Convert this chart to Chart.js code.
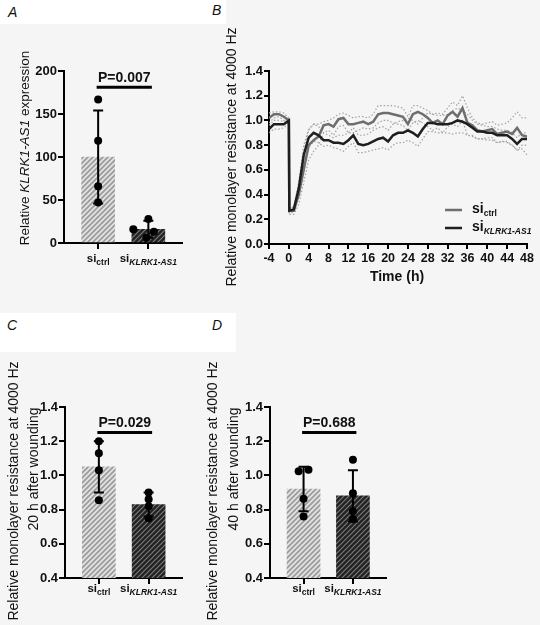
<!DOCTYPE html>
<html>
<head>
<meta charset="utf-8">
<script src="https://cdn.jsdelivr.net/npm/chart.js@4.4.1/dist/chart.umd.min.js"></script>
<style>
  body { margin:0; width:540px; height:625px; background:#f5f5f5; position:relative; overflow:hidden; }
  canvas { position:absolute; }
  .strip { position:absolute; background:#fff; }
  .lbl { position:absolute; font:italic 14px "Liberation Sans", Arial, sans-serif; line-height:1; color:#111; }
</style>
</head>
<body>
<div class="strip" style="left:0;top:0;width:226px;height:24px"></div>
<div class="strip" style="left:0;top:313px;width:236px;height:39px"></div>
<div class="lbl" style="left:8px;top:5px">A</div>
<div class="lbl" style="left:212px;top:3px">B</div>
<div class="lbl" style="left:7px;top:318px">C</div>
<div class="lbl" style="left:212px;top:318px">D</div>

<canvas id="chartA" width="200" height="300" style="left:0;top:0"></canvas>
<canvas id="chartB" width="340" height="300" style="left:200px;top:0"></canvas>
<canvas id="chartC" width="270" height="325" style="left:0;top:300px"></canvas>
<canvas id="chartD" width="340" height="325" style="left:200px;top:300px"></canvas>

<script>
// groups (x categories of the bar panels)
const groups = ['ctrl', 'KLRK1-AS1'];

// A: relative KLRK1-AS1 expression
const exprMean = [100, 16];
const exprSd = [54, 10];
const exprDots = [[167, 119, 66, 47], [28, 16, 13, 6]];
const exprJitter = [[0, 0, 0, 0], [0, -0.3, 0.11, -0.04]];
const exprTicks = [0, 50, 100, 150, 200];
const exprP = 'P=0.007';

// B: resistance time course
const hours = [-4, -3, -2, -1, 0, 0.1, 1, 2, 3, 4, 5, 6, 7, 8, 9, 10, 11, 12, 13, 14, 15, 16, 17, 18, 19, 20,
  21, 22, 23, 24, 25, 26, 27, 28, 29, 30, 31, 32, 33, 34, 35, 36, 37, 38, 39, 40, 41, 42, 43, 44, 45, 46, 47, 48];
const ctrlMean = [1.02, 1.05, 1.05, 1.03, 1.00, 0.27, 0.27, 0.40, 0.60, 0.80, 0.84, 0.87, 0.96, 0.97, 0.95, 1.01,
  1.02, 0.97, 0.97, 0.98, 0.99, 0.97, 0.99, 1.05, 1.06, 1.06, 1.05, 1.04, 1.03, 0.97, 1.05, 1.07, 1.05, 1.02,
  0.98, 1.00, 0.97, 1.04, 1.07, 1.03, 1.10, 0.98, 0.96, 0.92, 0.91, 0.92, 0.93, 0.89, 0.90, 0.91, 0.89, 0.94, 0.88, 0.87];
const ctrlHi = [1.06, 1.07, 1.07, 1.06, 1.02, 0.29, 0.30, 0.45, 0.75, 0.92, 0.97, 0.97, 0.99, 1.00, 1.02, 1.05,
  1.06, 1.04, 1.02, 1.03, 1.03, 1.02, 1.05, 1.12, 1.12, 1.12, 1.12, 1.11, 1.10, 1.03, 1.12, 1.12, 1.10, 1.08,
  1.05, 1.06, 1.05, 1.10, 1.15, 1.12, 1.20, 1.10, 1.02, 0.98, 0.97, 0.98, 0.99, 0.96, 0.97, 0.98, 1.02, 1.07, 1.02, 1.02];
const ctrlLo = [0.98, 1.02, 1.03, 1.00, 0.98, 0.24, 0.24, 0.32, 0.50, 0.68, 0.75, 0.80, 0.90, 0.92, 0.88, 0.95,
  0.96, 0.90, 0.90, 0.92, 0.94, 0.93, 0.94, 0.98, 1.00, 1.00, 0.98, 0.97, 0.96, 0.92, 0.98, 1.00, 0.98, 0.95,
  0.92, 0.94, 0.90, 0.95, 0.97, 0.95, 1.00, 0.88, 0.88, 0.85, 0.85, 0.86, 0.86, 0.82, 0.83, 0.82, 0.80, 0.76, 0.77, 0.72];
const ktMean = [0.93, 0.97, 0.97, 0.97, 1.00, 0.27, 0.28, 0.45, 0.72, 0.86, 0.90, 0.88, 0.84, 0.84, 0.82, 0.82,
  0.81, 0.84, 0.88, 0.81, 0.80, 0.81, 0.83, 0.85, 0.86, 0.83, 0.88, 0.90, 0.90, 0.92, 0.90, 0.87, 0.93, 0.98,
  0.98, 0.97, 0.97, 0.97, 0.98, 1.00, 0.99, 0.97, 0.94, 0.91, 0.91, 0.90, 0.90, 0.88, 0.88, 0.88, 0.85, 0.81, 0.85, 0.85];
const ktHi = [0.96, 1.00, 1.00, 0.99, 1.01, 0.28, 0.30, 0.50, 0.80, 0.93, 0.97, 0.95, 0.90, 0.88, 0.86, 0.88,
  0.88, 0.90, 0.94, 0.88, 0.88, 0.89, 0.92, 0.94, 0.95, 0.92, 0.97, 0.99, 1.00, 1.02, 1.00, 0.97, 1.02, 1.06,
  1.05, 1.04, 1.04, 1.05, 1.08, 1.10, 1.08, 1.05, 1.00, 0.97, 0.96, 0.95, 0.95, 0.93, 0.92, 0.92, 0.90, 0.86, 0.90, 0.90];
const ktLo = [0.90, 0.93, 0.93, 0.94, 0.98, 0.25, 0.26, 0.40, 0.65, 0.78, 0.83, 0.82, 0.79, 0.80, 0.78, 0.77,
  0.75, 0.79, 0.82, 0.74, 0.74, 0.75, 0.76, 0.77, 0.78, 0.76, 0.80, 0.82, 0.82, 0.84, 0.82, 0.79, 0.85, 0.91,
  0.91, 0.90, 0.90, 0.90, 0.89, 0.90, 0.90, 0.88, 0.87, 0.85, 0.85, 0.84, 0.84, 0.82, 0.83, 0.83, 0.80, 0.76, 0.80, 0.80];
const timeTicks = [-4, 0, 4, 8, 12, 16, 20, 24, 28, 32, 36, 40, 44, 48];
const resTicks = [0, 0.2, 0.4, 0.6, 0.8, 1.0, 1.2, 1.4];

// C: 20 h after wounding
const res20Mean = [1.05, 0.83];
const res20Sd = [0.15, 0.07];
const res20Dots = [[1.20, 1.13, 1.03, 0.855], [0.90, 0.86, 0.82, 0.75]];
const res20Jitter = [[0, 0, 0, 0], [0, 0, 0, 0]];
const res20P = 'P=0.029';

// D: 40 h after wounding
const res40Mean = [0.92, 0.88];
const res40Sd = [0.13, 0.15];
const res40Dots = [[1.025, 1.033, 0.864, 0.76], [1.092, 0.895, 0.79, 0.745]];
const res40Jitter = [[-0.1, 0.1, 0, 0], [0, 0, 0, 0]];
const res40P = 'P=0.688';
const woundTicks = [0.4, 0.6, 0.8, 1.0, 1.2, 1.4];

const FONT = '"Liberation Sans", Arial, sans-serif';
const INK = '#111';

function hatch(base, stripe, w) {
  const c = document.createElement('canvas');
  c.width = c.height = 5;
  const g = c.getContext('2d');
  g.fillStyle = base;
  g.fillRect(0, 0, 5, 5);
  g.strokeStyle = stripe;
  g.lineWidth = w;
  g.beginPath();
  g.moveTo(-1, 1); g.lineTo(1, -1);
  g.moveTo(0, 5); g.lineTo(5, 0);
  g.moveTo(4, 6); g.lineTo(6, 4);
  g.stroke();
  return g.createPattern(c, 'repeat');
}

// rotated axis title, made of spans with their own fonts
function vText(g, spans, cx, cy) {
  g.save();
  g.translate(cx, cy);
  g.rotate(-Math.PI / 2);
  g.fillStyle = INK;
  g.textBaseline = 'middle';
  g.textAlign = 'left';
  let total = 0;
  spans.forEach(s => { g.font = s[1]; total += g.measureText(s[0]).width; });
  let x = -total / 2;
  spans.forEach(s => { g.font = s[1]; g.fillText(s[0], x, 0); x += g.measureText(s[0]).width; });
  g.restore();
}

// "si" with a subscript
function siLabel(g, x, y, sub, size, subSize, centred) {
  const f1 = 'bold ' + size + 'px ' + FONT;
  const f2 = (sub === 'ctrl' ? '' : 'italic ') + 'bold ' + subSize + 'px ' + FONT;
  g.font = f1; const w1 = g.measureText('si').width;
  g.font = f2; const w2 = g.measureText(sub).width;
  const x0 = centred ? x - (w1 + w2) / 2 : x;
  g.fillStyle = INK;
  g.textAlign = 'left';
  g.textBaseline = 'alphabetic';
  g.font = f1; g.fillText('si', x0, y);
  g.font = f2; g.fillText(sub, x0 + w1, y + 3);
}

function axisGrid(len) {
  return { drawOnChartArea: false, drawTicks: true, tickLength: len, color: '#000', lineWidth: 2, offset: false };
}

function barPanel(id, o) {
  const dots = [];
  o.dots.forEach((arr, i) => arr.forEach((v, k) => dots.push({ x: i + o.jitter[i][k], y: v })));

  const deco = {
    id: 'deco',
    afterDatasetDraw(chart, args) {
      if (args.index !== 0) return;
      const g = chart.ctx, xs = chart.scales.x, ys = chart.scales.y;
      g.save();
      g.strokeStyle = '#000';
      g.lineWidth = 2;
      o.mean.forEach((m, i) => {
        const px = xs.getPixelForValue(i);
        const top = ys.getPixelForValue(m + o.sd[i]);
        const bot = ys.getPixelForValue(m - o.sd[i]);
        g.beginPath();
        g.moveTo(px, top); g.lineTo(px, bot);
        g.moveTo(px - 5, top); g.lineTo(px + 5, top);
        g.moveTo(px - 5, bot); g.lineTo(px + 5, bot);
        g.stroke();
      });
      g.restore();
    },
    afterDraw(chart) {
      const g = chart.ctx, xs = chart.scales.x, ys = chart.scales.y;
      // significance bar
      const x1 = xs.getPixelForValue(-0.03), x2 = xs.getPixelForValue(1.07);
      const py = ys.getPixelForValue(o.pLevel);
      g.save();
      g.strokeStyle = '#000';
      g.lineWidth = 3;
      g.beginPath(); g.moveTo(x1, py); g.lineTo(x2, py); g.stroke();
      g.fillStyle = INK;
      g.font = 'bold 14px ' + FONT;
      g.textAlign = 'center';
      g.textBaseline = 'alphabetic';
      g.fillText(o.p, (x1 + x2) / 2, py - 5);
      // group labels
      groups.forEach((grp, i) => siLabel(g, xs.getPixelForValue(i), ys.bottom + o.labOff, grp, 11.5, 8.5, true));
      // y titles
      o.titles.forEach(t => vText(g, t.spans, t.x, t.y));
      g.restore();
    }
  };

  new Chart(document.getElementById(id), {
    type: 'bar',
    data: {
      datasets: [
        {
          type: 'bar',
          order: 2,
          data: o.mean.map((m, i) => ({ x: i, y: m })),
          backgroundColor: [hatch('#e4e4e4', '#9c9c9c', 1.8), hatch('#222', '#7a7a7a', 1.2)],
          borderWidth: 0,
          barThickness: 33
        },
        {
          type: 'scatter',
          order: 1,
          data: dots,
          pointRadius: 4,
          pointBackgroundColor: '#000',
          pointBorderWidth: 0
        }
      ]
    },
    options: {
      responsive: false,
      animation: false,
      devicePixelRatio: 1,
      layout: { padding: { top: o.T, right: o.R, left: 0, bottom: 0 } },
      plugins: { legend: { display: false }, tooltip: { enabled: false } },
      scales: {
        x: {
          type: 'linear', min: -0.68, max: 1.67, offset: false,
          afterBuildTicks: s => { s.ticks = [{ value: 0 }, { value: 1 }]; },
          afterFit: s => { s.height = o.H; },
          grid: axisGrid(6),
          border: { color: '#000', width: 2 },
          ticks: { display: false }
        },
        y: {
          min: o.ticks[0], max: o.ticks[o.ticks.length - 1],
          afterBuildTicks: s => { s.ticks = o.ticks.map(v => ({ value: v })); },
          afterFit: s => { s.width = o.L; },
          grid: axisGrid(6),
          border: { color: '#000', width: 2 },
          ticks: {
            color: INK, padding: 1,
            font: { family: FONT, size: 13, weight: 'bold' },
            callback: o.fmt
          }
        }
      }
    },
    plugins: [deco]
  });
}

barPanel('chartA', {
  mean: exprMean, sd: exprSd, dots: exprDots, jitter: exprJitter, ticks: exprTicks,
  p: exprP, pLevel: 181, labOff: 19,
  L: 64, T: 71, R: 18, H: 57,
  fmt: v => String(v),
  titles: [{ x: 25, y: 148, spans: [['Relative ', '13.5px ' + FONT], ['KLRK1-AS1', 'italic 13.5px ' + FONT], [' expression', '13.5px ' + FONT]] }]
});

barPanel('chartC', {
  mean: res20Mean, sd: res20Sd, dots: res20Dots, jitter: res20Jitter, ticks: woundTicks,
  p: res20P, pLevel: 1.251, labOff: 14,
  L: 65, T: 107, R: 88, H: 47,
  fmt: v => v.toFixed(1),
  titles: [
    { x: 14, y: 191, spans: [['Relative monolayer resistance at 4000 Hz', '14px ' + FONT]] },
    { x: 34, y: 169, spans: [['20 h after wounding', '14px ' + FONT]] }
  ]
});

barPanel('chartD', {
  mean: res40Mean, sd: res40Sd, dots: res40Dots, jitter: res40Jitter, ticks: woundTicks,
  p: res40P, pLevel: 1.251, labOff: 14,
  L: 70, T: 107, R: 154, H: 47,
  fmt: v => v.toFixed(1),
  titles: [
    { x: 13, y: 191, spans: [['Relative monolayer resistance at 4000 Hz', '14px ' + FONT]] },
    { x: 34, y: 169, spans: [['40 h after wounding', '14px ' + FONT]] }
  ]
});

// B: time course
function series(arr) {
  return hours.map((h, i) => ({ x: h, y: arr[i] }));
}
const dotted = { borderColor: '#a3a3a3', borderWidth: 1.2, borderDash: [1.5, 2], pointRadius: 0, fill: false, order: 2 };

const decoB = {
  id: 'decoB',
  afterDraw(chart) {
    const g = chart.ctx;
    g.save();
    // legend
    g.lineWidth = 2.5;
    [['ctrl', '#6e6e6e', 210], ['KLRK1-AS1', '#1e1e1e', 228]].forEach(r => {
      g.strokeStyle = r[1];
      g.beginPath(); g.moveTo(245, r[2]); g.lineTo(262, r[2]); g.stroke();
      siLabel(g, 272, r[2] + 3, r[0], 14, 8.5, false);
    });
    // axis titles
    g.fillStyle = INK;
    g.font = 'bold 14px ' + FONT;
    g.textAlign = 'center';
    g.textBaseline = 'alphabetic';
    g.fillText('Time (h)', 197, 281);
    vText(g, [['Relative monolayer resistance at 4000 Hz', '14px ' + FONT]], 32, 157);
    g.restore();
  }
};

new Chart(document.getElementById('chartB'), {
  type: 'line',
  data: {
    datasets: [
      { data: series(ctrlMean), borderColor: '#6e6e6e', borderWidth: 2.5, pointRadius: 0, fill: false, order: 1 },
      { data: series(ktMean), borderColor: '#1e1e1e', borderWidth: 2.5, pointRadius: 0, fill: false, order: 0 },
      Object.assign({ data: series(ctrlHi) }, dotted),
      Object.assign({ data: series(ctrlLo) }, dotted),
      Object.assign({ data: series(ktHi) }, dotted),
      Object.assign({ data: series(ktLo) }, dotted)
    ]
  },
  options: {
    responsive: false,
    animation: false,
    devicePixelRatio: 1,
    layout: { padding: { top: 71, right: 13, left: 0, bottom: 0 } },
    plugins: { legend: { display: false }, tooltip: { enabled: false } },
    scales: {
      x: {
        type: 'linear', min: -4, max: 48,
        afterBuildTicks: s => { s.ticks = timeTicks.map(v => ({ value: v })); },
        afterFit: s => { s.height = 56; },
        grid: axisGrid(5),
        border: { color: '#000', width: 2 },
        ticks: { color: INK, padding: 2, maxRotation: 0, font: { family: FONT, size: 12.5, weight: 'bold' }, callback: v => String(v) }
      },
      y: {
        min: 0, max: 1.4,
        afterBuildTicks: s => { s.ticks = resTicks.map(v => ({ value: v })); },
        afterFit: s => { s.width = 69; },
        grid: axisGrid(5),
        border: { color: '#000', width: 2 },
        ticks: { color: INK, padding: 1, font: { family: FONT, size: 13, weight: 'bold' }, callback: v => v.toFixed(1) }
      }
    }
  },
  plugins: [decoB]
});
</script>
</body>
</html>
